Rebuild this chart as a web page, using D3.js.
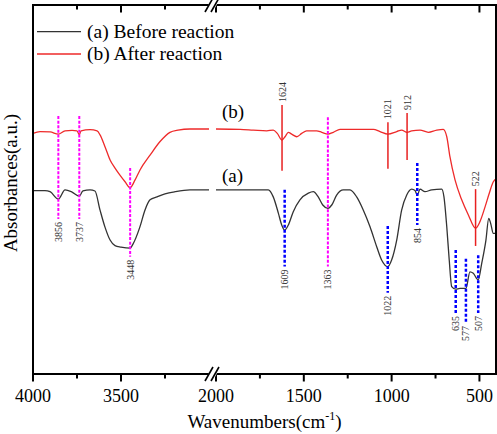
<!DOCTYPE html>
<html><head><meta charset="utf-8">
<script src="https://cdn.jsdelivr.net/npm/d3@7/dist/d3.min.js"></script>
<style>
body{margin:0;background:#fff}
svg{display:block}
</style>
</head><body>
<svg id="chart" width="497" height="434" font-family="'Times New Roman', 'Liberation Serif', 'DejaVu Serif', serif"></svg>
<script>
// ---------- data ----------
const seriesNames = ["(a) Before reaction", "(b) After reaction"];
const seriesColors = ["#333333", "#ee2a2a"];

const wnA = [4000,3932,3903,3856,3818,3778,3737,3716,3676,3648,3619,3591,3562,3534,3500,3448,3432,3393,3364,3335,3295,3250,3193,3108,3000,
  2000,1863,1702,1674,1645,1626,1609,1588,1560,1522,1474,1446,1418,1392,1363,1341,1313,1275,1237,1199,1161,1123,1085,1057,1022,1000,971,943,914,886,867,854,838,810,772,715,702,686,672,658,635,611,577,554,535,507,487,463,447,436,421,400];
const absA = [0.497,0.497,0.494,0.474,0.499,0.493,0.482,0.496,0.499,0.496,0.444,0.398,0.363,0.348,0.344,0.341,0.352,0.398,0.444,0.472,0.480,0.488,0.494,0.499,0.499,
  0.499,0.499,0.499,0.480,0.436,0.404,0.390,0.404,0.440,0.472,0.490,0.494,0.480,0.458,0.449,0.458,0.485,0.499,0.499,0.480,0.444,0.399,0.345,0.309,0.291,0.309,0.363,0.444,0.485,0.501,0.497,0.485,0.501,0.494,0.499,0.501,0.480,0.399,0.309,0.237,0.230,0.232,0.232,0.277,0.273,0.255,0.300,0.363,0.422,0.408,0.381,0.381];

const wnB = [4000,3960,3903,3856,3818,3778,3750,3737,3727,3676,3636,3619,3591,3562,3534,3506,3477,3448,3420,3392,3335,3278,3222,3176,3108,3000,
  2000,1863,1788,1711,1674,1651,1624,1607,1588,1569,1540,1512,1484,1455,1427,1398,1363,1332,1294,1218,1104,1066,1021,971,943,912,886,838,791,743,706,686,668,639,601,563,522,497,468,444,421,400];
const absB = [0.652,0.657,0.656,0.650,0.659,0.660,0.659,0.648,0.659,0.662,0.659,0.648,0.616,0.580,0.558,0.539,0.521,0.505,0.526,0.553,0.593,0.630,0.655,0.661,0.664,0.664,
  0.664,0.663,0.661,0.659,0.661,0.652,0.634,0.643,0.655,0.650,0.643,0.652,0.659,0.659,0.659,0.655,0.650,0.655,0.663,0.663,0.663,0.657,0.650,0.657,0.661,0.655,0.659,0.661,0.655,0.661,0.663,0.643,0.589,0.526,0.472,0.431,0.395,0.413,0.453,0.490,0.521,0.530];

const xMajorTicks = [4000,3500,2000,1500,1000,500];
const xMinorTicks = [3750,3250,1750,1250,750];

// peak markers (wavenumber, top / bottom absorbance of marker)
const magentaWn = [3856,3737,3448,1363];
const magentaTop = [0.699,0.699,0.558,0.696];
const magentaBot = [0.420,0.420,0.318,0.291];
const blueWn = [1609,1022,854,635,577,507];
const blueTop = [0.499,0.401,0.572,0.336,0.312,0.322];
const blueBot = [0.291,0.220,0.404,0.165,0.138,0.165];
const redWn = [1624,1021,912,522];
const redTop = [0.729,0.682,0.707,0.501];
const redBot = [0.551,0.556,0.580,0.347];

const curveLabels = ["(a)", "(b)"];
const curveLabelWn = [1966, 1966];
const curveLabelAbs = [0.519, 0.695];

// ---------- layout ----------
const FONT = "'Times New Roman', 'Liberation Serif', 'DejaVu Serif', serif";
const svg = d3.select("#chart");
const L = 33, R = 496, T = 5, B = 374;
const x = d3.scaleLinear().domain([4000,3000,2000,400]).range([L,209,216,497]);
const y = d3.scaleLinear().domain([0,1]).range([B,T]);

function txt(){ return svg.append("text").attr("font-family", FONT).style("font-family", FONT); }

// curves split at the axis break
function segs(wn, ab){
  const pts = wn.map((w,i)=>[w,ab[i]]);
  return [pts.filter(p=>p[0]>=3000), pts.filter(p=>p[0]<=2000)];
}
const line = d3.line().x(d=>x(d[0])).y(d=>y(d[1])).curve(d3.curveMonotoneX);
[[wnA,absA],[wnB,absB]].forEach((s,i)=>{
  segs(s[0],s[1]).forEach(seg=>{
    svg.append("path").datum(seg).attr("d",line)
      .attr("fill","none").attr("stroke",seriesColors[i]).attr("stroke-width",1.3);
  });
});

// markers
function markers(wn, top, bot, color, dash, width, labelBelow){
  wn.forEach((w,i)=>{
    svg.append("line").attr("x1",x(w)).attr("x2",x(w))
      .attr("y1",y(top[i])).attr("y2",y(bot[i]))
      .attr("stroke",color).attr("stroke-width",width)
      .attr("stroke-dasharray",dash);
    const ly = labelBelow ? y(bot[i]) + 3 : y(top[i]) - 3;
    txt()
      .attr("transform",`translate(${x(w)+3.5},${ly}) rotate(-90)`)
      .attr("text-anchor", labelBelow ? "end" : "start")
      .attr("font-size",10).attr("fill","#333").text(w);
  });
}
markers(magentaWn, magentaTop, magentaBot, "#ff00ff", "3,1.6", 2, true);
markers(blueWn, blueTop, blueBot, "#0000ff", "3,2", 2.5, true);
markers(redWn, redTop, redBot, "#e82020", null, 1.5, false);

// curve labels
curveLabels.forEach((t,i)=>{
  txt().attr("x",x(curveLabelWn[i])).attr("y",y(curveLabelAbs[i]))
    .attr("font-size",19).attr("fill","#000").text(t);
});

// frame
svg.append("rect").attr("x",L).attr("y",T).attr("width",R-L).attr("height",B-T)
  .attr("fill","none").attr("stroke","#000").attr("stroke-width",2);

// ticks bottom (outward) and top (inward)
xMajorTicks.forEach(v=>{
  svg.append("line").attr("x1",x(v)).attr("x2",x(v)).attr("y1",B).attr("y2",B+7.5).attr("stroke","#000").attr("stroke-width",2);
  svg.append("line").attr("x1",x(v)).attr("x2",x(v)).attr("y1",T).attr("y2",T+7.5).attr("stroke","#000").attr("stroke-width",2);
  txt().attr("x",x(v)).attr("y",402).attr("text-anchor","middle")
    .attr("font-size",18).attr("fill","#000").text(v);
});
xMinorTicks.forEach(v=>{
  svg.append("line").attr("x1",x(v)).attr("x2",x(v)).attr("y1",B).attr("y2",B+4.5).attr("stroke","#000").attr("stroke-width",2);
  svg.append("line").attr("x1",x(v)).attr("x2",x(v)).attr("y1",T).attr("y2",T+4.5).attr("stroke","#000").attr("stroke-width",2);
});

// axis break marks
[T,B].forEach(yy=>{
  svg.append("polygon").attr("points",`${205},${yy+7} ${213},${yy+7} ${220},${yy-7} ${212},${yy-7}`)
    .attr("fill","#fff");
  [[205,212],[211,218]].forEach(p=>{
    svg.append("line").attr("x1",p[0]).attr("y1",yy+7).attr("x2",p[1]+1).attr("y2",yy-7)
      .attr("stroke","#000").attr("stroke-width",1.6);
  });
});

// axis titles
const xt = txt().attr("x",(L+R)/2).attr("y",428).attr("text-anchor","middle")
  .attr("font-size",19).attr("fill","#000");
xt.append("tspan").text("Wavenumbers(cm");
xt.append("tspan").attr("font-size",12).attr("dy",-8).text("-1");
xt.append("tspan").attr("dy",8).text(")");

txt().attr("transform","translate(17,183) rotate(-90)")
  .attr("text-anchor","middle").attr("font-size",19).attr("fill","#000")
  .text("Absorbances(a.u.)");

// legend
seriesNames.forEach((n,i)=>{
  const yy = 31.7 + i*22.3;
  svg.append("line").attr("x1",37).attr("x2",81).attr("y1",yy).attr("y2",yy)
    .attr("stroke",seriesColors[i]).attr("stroke-width",1.3);
  txt().attr("x",87).attr("y",yy+6.3).attr("font-size",19.5).attr("fill","#000").text(n);
});
</script>
</body></html>
